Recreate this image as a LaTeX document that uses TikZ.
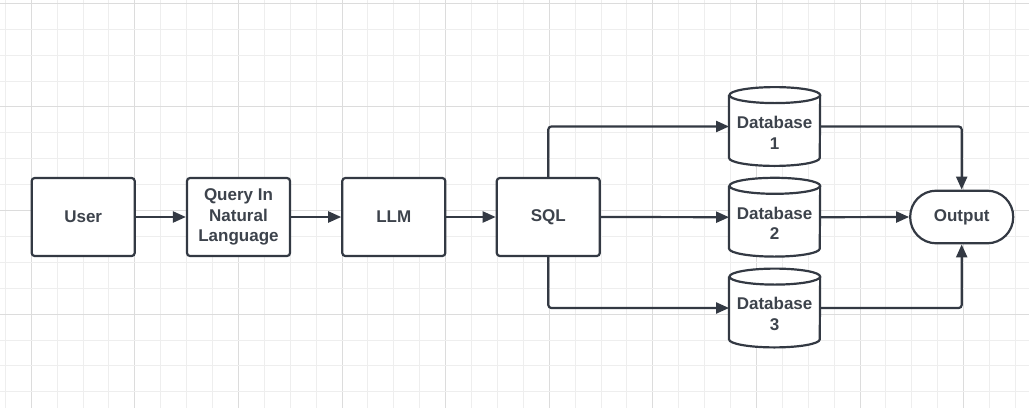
\documentclass[tikz,border=0pt]{standalone}
\usepackage{fontspec}
\setmainfont{Liberation Sans}
\usetikzlibrary{arrows.meta}
\definecolor{ink}{HTML}{333943}
\definecolor{txt}{HTML}{3D434C}
\definecolor{gminor}{HTML}{EEEEEE}
\definecolor{gmajor}{HTML}{DCDCDC}
\tikzset{
  boxnode/.style={draw=ink, line width=2.2pt, fill=white, rounded corners=3pt,
    minimum width=103pt, minimum height=78pt, inner sep=0pt, align=center,
    font=\fontsize{17}{20.5}\selectfont\bfseries, text=txt},
  dbnode/.style={minimum width=90.7pt, minimum height=78.4pt, inner sep=0pt},
  dbtext/.style={align=center, font=\fontsize{17}{20.7}\selectfont\bfseries, text=txt, inner sep=0pt},
  cylline/.style={draw=ink, line width=2.2pt, fill=white},
  outnode/.style={draw=ink, line width=2.2pt, fill=white, rounded corners=26pt,
    minimum width=103pt, minimum height=52.6pt, inner sep=0pt,
    font=\fontsize{17}{20.5}\selectfont\bfseries, text=txt},
  conn/.style={draw=ink, line width=2.2pt, rounded corners=3pt,
    -{Triangle[length=13pt,width=11pt]}},
}
\newcommand{\cylshape}[1]{%
  \path[cylline] ([yshift=-8pt]#1.north west) -- ([yshift=8pt]#1.south west)
    arc[start angle=180,end angle=360,x radius=45.35pt,y radius=8pt]
    -- ([yshift=-8pt]#1.north east)
    arc[start angle=0,end angle=180,x radius=45.35pt,y radius=8pt]
    arc[start angle=180,end angle=360,x radius=45.35pt,y radius=8pt];}
\begin{document}
\begin{tikzpicture}[x=1pt,y=-1pt]
\useasboundingbox (0,0) rectangle (1029,408);
\fill[white] (0,0) rectangle (1029,408);
% grid
\foreach \i in {0,...,39} {
  \pgfmathtruncatemacro{\m}{mod(\i,4)}
  \ifnum\m=1 \draw[gmajor, line width=1pt] ({5.3+25.9*\i},0) -- ++(0,408);
  \else \draw[gminor, line width=1pt] ({5.3+25.9*\i},0) -- ++(0,408); \fi
}
\foreach \j in {0,...,15} {
  \pgfmathtruncatemacro{\m}{mod(\j,4)}
  \ifnum\m=0 \draw[gmajor, line width=1pt] (0,{3.3+25.9*\j}) -- ++(1029,0);
  \else \draw[gminor, line width=1pt] (0,{3.3+25.9*\j}) -- ++(1029,0); \fi
}
% nodes
\node[boxnode] (user) at (83.2,217) {User};
\node[boxnode] (query) at (238.5,217) {Query In\\Natural\\Language};
\node[boxnode] (llm) at (393.8,217) {LLM};
\node[boxnode] (sql) at (548.3,217) {SQL};
\node[dbnode] (db1) at (774.6,126.5) {};
\node[dbnode] (db2) at (774.6,217.2) {};
\node[dbnode] (db3) at (774.6,308) {};
\cylshape{db1}
\cylshape{db2}
\cylshape{db3}
\node[dbtext] (t1) at ([yshift=-6pt]db1.center) {Database\\1};
\node[dbtext] (t2) at ([yshift=-6pt]db2.center) {Database\\2};
\node[dbtext] (t3) at ([yshift=-6pt]db3.center) {Database\\3};
\node[outnode] (out) at (961.7,217) {Output};
% connectors
\draw[conn] (user.east) -- (query.west);
\draw[conn] (query.east) -- (llm.west);
\draw[conn] (llm.east) -- (sql.west);
\draw[conn] (sql.north) |- (db1.west);
\draw[conn] (sql.east) -- (db2.west);
\draw[conn] (sql.south) |- (db3.west);
\draw[conn] (db1.east) -| (out.north);
\draw[conn] (db2.east) -- (out.west);
\draw[conn] (db3.east) -| (out.south);
\end{tikzpicture}
\end{document}
